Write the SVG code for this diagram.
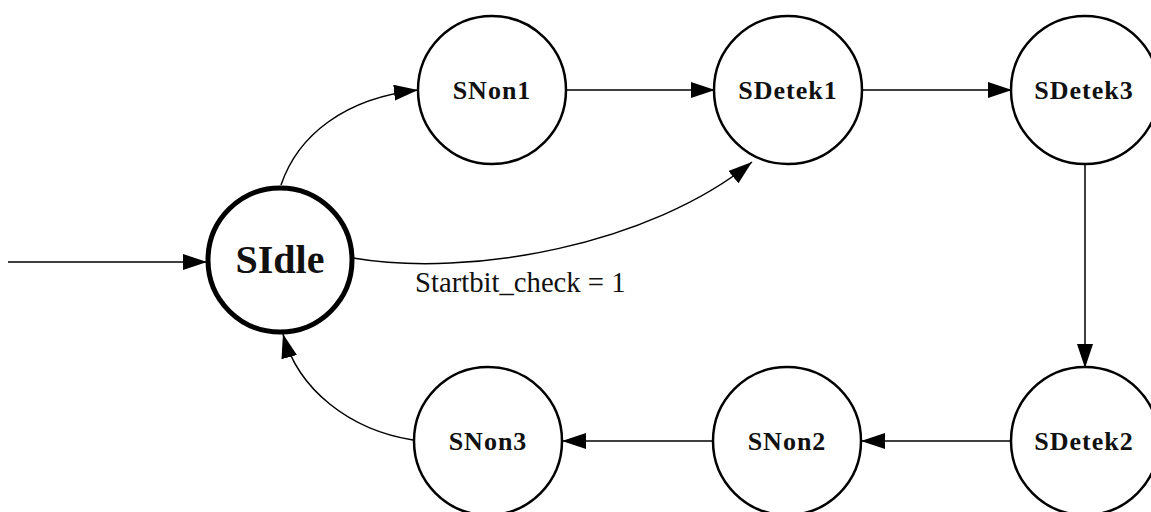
<svg xmlns="http://www.w3.org/2000/svg" width="1151" height="512" viewBox="0 0 1151 512">
<style>
.st{fill:#fff;stroke:#000;stroke-width:2.5}
.init{fill:#fff;stroke:#000;stroke-width:5}
.lbl{font-family:"Liberation Serif","Times New Roman",serif;font-weight:bold;font-size:26px;letter-spacing:1px;text-anchor:middle;fill:#111}
.big{font-size:40px;letter-spacing:0}
.e{fill:none;stroke:#000;stroke-width:1.5;marker-end:url(#ah)}
.el{font-family:"Liberation Serif","Times New Roman",serif;font-size:28.7px;fill:#111}
</style>
<defs>
<marker id="ah" markerUnits="userSpaceOnUse" markerWidth="26" markerHeight="18" refX="24" refY="8" orient="auto">
<path d="M0,0 L24,8 L0,16 z" fill="#000"/>
</marker>
</defs>
<rect width="1151" height="512" fill="#fff"/>
<g id="edges">
<path class="e" d="M8,262 L207,262"/>
<path class="e" d="M281,185 C298,135 345,98 418,90"/>
<path class="e" d="M353,258 C470,278 650,245 752,162"/>
<path class="e" d="M567,90 L715,90"/>
<path class="e" d="M862,90 L1012,90"/>
<path class="e" d="M1085,163 L1085,368"/>
<path class="e" d="M1012,441 L861,441"/>
<path class="e" d="M713,441 L562,441"/>
<path class="e" d="M413,440 C350,430 298,390 283,334"/>
<text class="el" x="415" y="292">Startbit_check = 1</text>
</g>
<g id="SIdle"><circle class="init" cx="280" cy="260" r="72"/><text class="lbl big" x="280" y="273">SIdle</text></g>
<g id="SNon1"><circle class="st" cx="492" cy="90" r="74"/><text class="lbl" x="492" y="99">SNon1</text></g>
<g id="SDetek1"><circle class="st" cx="788" cy="90" r="74"/><text class="lbl" x="788" y="99">SDetek1</text></g>
<g id="SDetek3"><circle class="st" cx="1085" cy="90" r="74"/><text class="lbl" x="1084" y="99">SDetek3</text></g>
<g id="SDetek2"><circle class="st" cx="1085" cy="441" r="74"/><text class="lbl" x="1084" y="450">SDetek2</text></g>
<g id="SNon2"><circle class="st" cx="787" cy="441" r="74"/><text class="lbl" x="787" y="450">SNon2</text></g>
<g id="SNon3"><circle class="st" cx="488" cy="441" r="74"/><text class="lbl" x="488" y="450">SNon3</text></g>
</svg>
